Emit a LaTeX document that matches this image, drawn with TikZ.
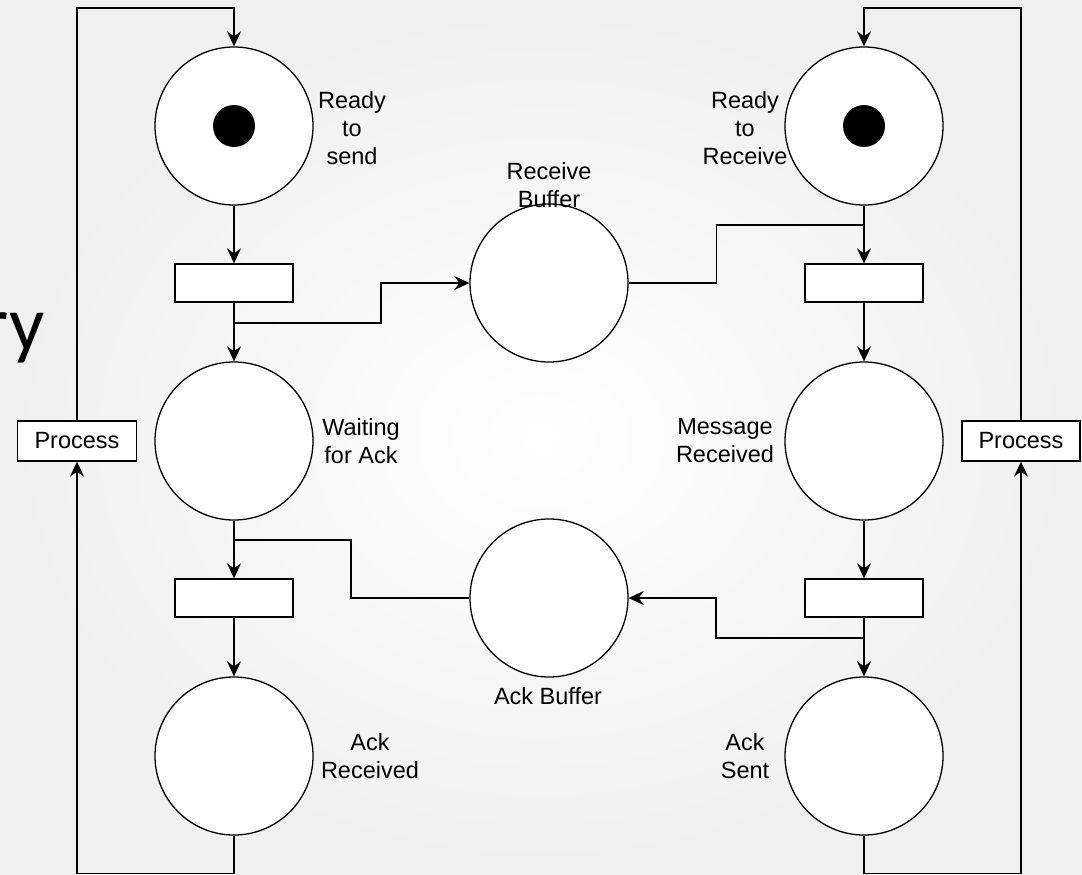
\documentclass[tikz,border=0pt]{standalone}
\usepackage{fontspec}
\setmainfont{Liberation Sans}
\newfontfamily\slidefont{Carlito}
\usetikzlibrary{arrows.meta}
\newcommand{\arw}{-{Stealth[length=15pt,width=14pt,inset=5pt]}}

\begin{document}
\begin{tikzpicture}[x=1pt,y=-1pt,
  place/.style={circle,draw,fill=white,line width=1.3pt,minimum size=158pt,inner sep=0pt},
  trans/.style={draw,fill=white,line width=1.3pt,minimum width=118pt,minimum height=38pt,inner sep=0pt},
  token/.style={circle,fill=black,minimum size=42pt,inner sep=0pt},
  lbl/.style={align=center,font=\fontsize{23.5}{28}\selectfont,inner sep=0pt},
  wire/.style={line width=1.5pt}]
\useasboundingbox (0,0) rectangle (1082,875);
\shade[inner color=white,outer color=black!6] (0,0) rectangle (1082,875);
\node[font=\slidefont\fontsize{78}{80}\selectfont,anchor=base east,inner sep=0pt] (title) at (45,350) {ry};

%sender side
\node[place] (rts) at (234,126) {};
\node[token] (rtsTok) at (rts) {};
\node[trans] (ts1) at (234,283) {};
\node[place] (wfa) at (234,441) {};
\node[trans] (ts2) at (234,598) {};
\node[place] (ar) at (234,756) {};
\node[trans,minimum width=119pt,minimum height=40pt,font=\fontsize{23.5}{28}\selectfont] (pl) at (77,441) {Process};

%receiver side
\node[place] (rtr) at (864,126) {};
\node[token] (rtrTok) at (rtr) {};
\node[trans] (tr1) at (864,283) {};
\node[place] (mr) at (864,441) {};
\node[trans] (tr2) at (864,598) {};
\node[place] (as) at (864,756) {};
\node[trans,minimum width=118pt,minimum height=40pt,font=\fontsize{23.5}{28}\selectfont] (pr) at (1021,441) {Process};

%buffers
\node[place] (rb) at (549,283) {};
\node[place] (ab) at (549,598) {};

\coordinate (js) at (234,323);
\coordinate (jw) at (234,540);
\coordinate (jr) at (864,225);
\coordinate (ja) at (864,638);
\coordinate (tl) at (234,8);
\coordinate (tr) at (864,8);

\draw[wire,\arw] (rts.south) -- (ts1.north);
\draw[wire,\arw] (ts1.south) -- (wfa.north);
\draw[wire,\arw] (js) -- ++(147,0) |- (rb.west);
\draw[wire,\arw] (wfa.south) -- (ts2.north);
\draw[wire] (jw) -- ++(117,0) |- (ab.west);
\draw[wire,\arw] (ts2.south) -- (ar.north);
\draw[wire,\arw] (ar.south) -- ++(0,38) -| (pl.south);
\draw[wire,\arw] (pl.north) |- (tl) -- (rts.north);

\draw[wire,\arw] (rtr.south) -- (tr1.north);
\draw[wire] (rb.east) -- ++(88,0) |- (jr);
\draw[wire,\arw] (tr1.south) -- (mr.north);
\draw[wire,\arw] (mr.south) -- (tr2.north);
\draw[wire,\arw] (tr2.south) -- (as.north);
\draw[wire,\arw] (ja) -- ++(-148,0) |- (ab.east);
\draw[wire,\arw] (as.south) -- ++(0,38) -| (pr.south);
\draw[wire,\arw] (pr.north) |- (tr) -- (rtr.north);

%labels
\node[lbl] (lrts) at (352,128) {Ready\\to\\send};
\node[lbl] (lrb) at (549,185) {Receive\\Buffer};
\node[lbl] (lrtr) at (745,128) {Ready\\to\\Receive};
\node[lbl] (lwfa) at (361,441) {Waiting\\for Ack};
\node[lbl] (lmr) at (725,441) {Message\\Received};
\node[lbl] (lab) at (548,696) {Ack Buffer};
\node[lbl] (lar) at (370,756) {Ack\\Received};
\node[lbl] (las) at (745,756) {Ack\\Sent};
\end{tikzpicture}
\end{document}
